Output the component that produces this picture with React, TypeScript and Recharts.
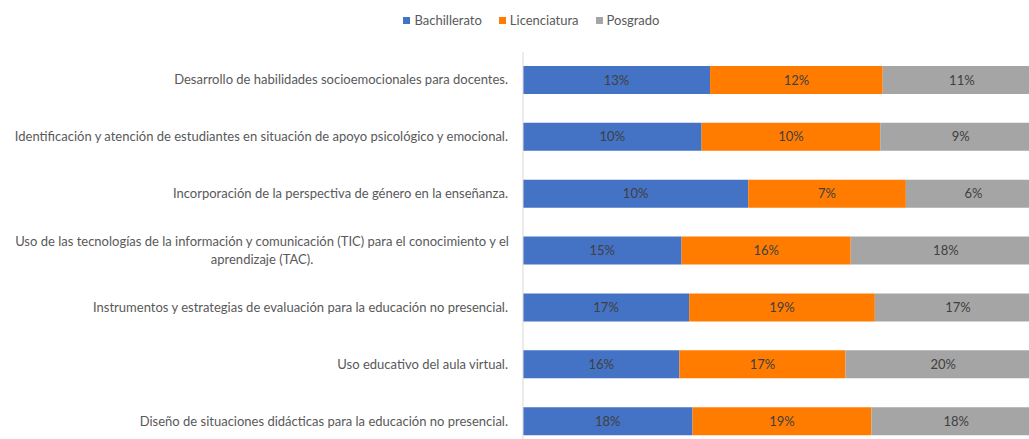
import React from 'react';
import { BarChart, Bar, XAxis, YAxis, Legend, LabelList } from 'recharts';

const categories = [
  'Desarrollo de habilidades socioemocionales para docentes.',
  'Identificación y atención de estudiantes en situación de apoyo psicológico y emocional.',
  'Incorporación de la perspectiva de género en la enseñanza.',
  'Uso de las tecnologías de la información y comunicación (TIC) para el conocimiento y el aprendizaje (TAC).',
  'Instrumentos y estrategias de evaluación para la educación no presencial.',
  'Uso educativo del aula virtual.',
  'Diseño de situaciones didácticas para la educación no presencial.',
];
const bachillerato = [13, 10, 10, 15, 17, 16, 18];
const licenciatura = [12, 10, 7, 16, 19, 17, 19];
const posgrado = [11, 9, 6, 18, 17, 20, 18];

const series = [
  { key: 'bachillerato', name: 'Bachillerato', color: '#4472C4' },
  { key: 'licenciatura', name: 'Licenciatura', color: '#FF7C00' },
  { key: 'posgrado', name: 'Posgrado', color: '#A5A5A5' },
];

const data = categories.map((c, i) => ({
  category: c,
  bachillerato: bachillerato[i],
  licenciatura: licenciatura[i],
  posgrado: posgrado[i],
}));

const FONT = 'Lato, "Open Sans", sans-serif';
const TEXT = '#595959';

// wrap long labels, centered like the original
const wrap = (s: string, max = 88) => {
  const words = s.split(' ');
  const lines: string[] = [];
  let cur = '';
  words.forEach((w) => {
    if ((cur + ' ' + w).trim().length > max) {
      lines.push(cur);
      cur = w;
    } else {
      cur = (cur + ' ' + w).trim();
    }
  });
  if (cur) lines.push(cur);
  return lines;
};

const CategoryTick = (props: any) => {
  const { x, y, payload } = props;
  const lines = wrap(payload.value);
  if (lines.length === 1) {
    return (
      <text x={x - 7} y={y} dy={4} textAnchor="end" fontSize={13} fill={TEXT} fontFamily={FONT}>
        {payload.value}
      </text>
    );
  }
  return (
    <text x={262} y={y - 9} textAnchor="middle" fontSize={13} fill={TEXT} fontFamily={FONT}>
      {lines.map((l, i) => (
        <tspan key={i} x={262} dy={i === 0 ? 4 : 18}>
          {l}
        </tspan>
      ))}
    </text>
  );
};

const LegendContent = () => (
  <div style={{ display: 'flex', justifyContent: 'center', gap: 17, fontFamily: FONT, fontSize: 13, color: TEXT, paddingLeft: 22 }}>
    {series.map((s) => (
      <span key={s.key} style={{ display: 'flex', alignItems: 'center' }}>
        <span style={{ width: 7, height: 7, background: s.color, display: 'inline-block', marginRight: 4 }} />
        {s.name}
      </span>
    ))}
  </div>
);

export default function App() {
  return (
    <div style={{ position: 'absolute', left: 0, top: 0, width: 1029, height: 439, overflow: 'hidden', background: '#fff' }}>
      <BarChart
        width={1045}
        height={456}
        data={data}
        layout="vertical"
        stackOffset="expand"
        barSize={28}
        margin={{ top: 30, right: 4, left: 0, bottom: 6 }}
      >
        <XAxis type="number" hide />
        <YAxis
          type="category"
          dataKey="category"
          width={523}
          axisLine={{ stroke: '#D9D9D9' }}
          tickLine={false}
          tick={<CategoryTick />}
          interval={0}
        />
        <Legend verticalAlign="top" height={22} wrapperStyle={{ top: 12 }} content={<LegendContent />} />
        {series.map((s) => (
          <Bar key={s.key} dataKey={s.key} name={s.name} stackId="a" fill={s.color} isAnimationActive={false}>
            <LabelList
              dataKey={s.key}
              position="center"
              formatter={(v: any) => `${v}%`}
              fill="#404040"
              fontSize={13}
              fontFamily={FONT}
            />
          </Bar>
        ))}
      </BarChart>
    </div>
  );
}
